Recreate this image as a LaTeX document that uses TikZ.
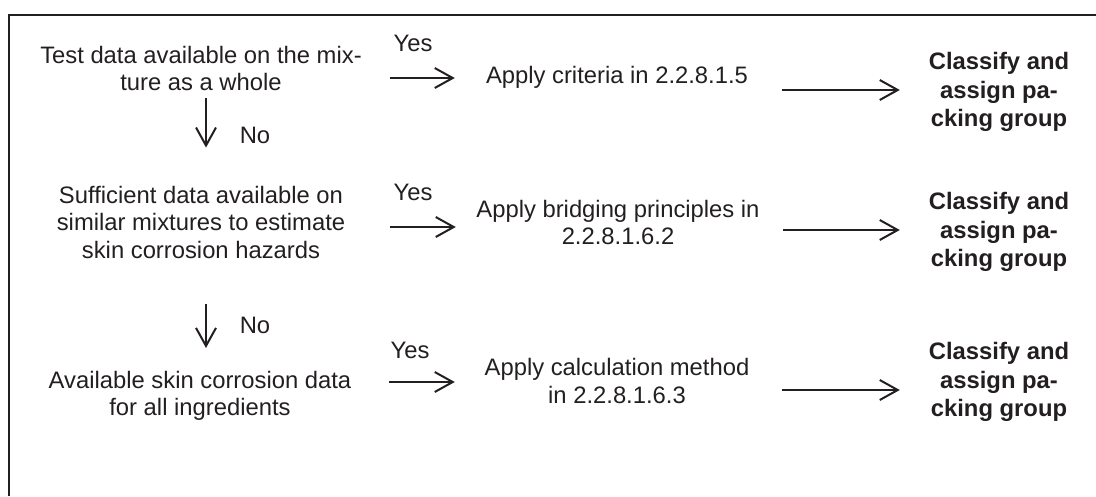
\documentclass[tikz,border=0pt]{standalone}
\usepackage{fontspec}
\setmainfont{Liberation Sans}
\usetikzlibrary{arrows.meta}
\definecolor{ink}{RGB}{35,31,32}

\begin{document}
\begin{tikzpicture}[x=1pt,y=-1pt]
	\tikzstyle{arrow}=[draw, ink, line width=2pt, -{Straight Barb[length=18pt,width=20pt]}]
	\tikzstyle{txt}=[ink, inner sep=0pt, align=center, font=\fontsize{23.8}{27.5}\selectfont]
	\tikzstyle{cond}=[txt, minimum width=378pt]
	\tikzstyle{apply}=[txt, minimum width=324pt]
	\tikzstyle{result}=[txt, minimum width=198pt, font=\fontsize{23.8}{28.5}\selectfont\bfseries]
	\newcommand\Xcond{201}
	\newcommand\Xapply{617}
	\newcommand\Xresult{999}
	\newcommand\Xyes{413}
	\newcommand\Xno{255}
	\newcommand\Xdown{206}

	\useasboundingbox (0,0) rectangle (1096,496);

	% Frame
	\draw [ink, line width=2pt] (9,496) |- (1096,15);

	% Conditions
	\node [cond] at (\Xcond,68.5) (c1) {Test data available on the mix-\\ture as a whole};
	\node [cond] at (\Xcond,222) (c2) {Sufficient data available on\\similar mixtures to estimate\\skin corrosion hazards};
	\node [cond] at (\Xcond-1,396) (c3) {Available skin corrosion data\\for all ingredients};

	% Methods
	\node [apply] at (\Xapply,77) (a1) {Apply criteria in 2.2.8.1.5};
	\node [apply] at (\Xapply+1,222.5) (a2) {Apply bridging principles in\\2.2.8.1.6.2};
	\node [apply] at (\Xapply,381) (a3) {Apply calculation method\\in 2.2.8.1.6.3};

	% Results
	\node [result] at (\Xresult,92) (k1) {Classify and\\assign pa-\\cking group};
	\node [result] at (\Xresult,232) (k2) {Classify and\\assign pa-\\cking group};
	\node [result] at (\Xresult,382) (k3) {Classify and\\assign pa-\\cking group};

	% Yes / No labels
	\node [txt] at (\Xyes,43) (yes1) {Yes};
	\node [txt] at (\Xyes,192) (yes2) {Yes};
	\node [txt] at (\Xyes-3,350) (yes3) {Yes};
	\node [txt] at (\Xno,135) (no1) {No};
	\node [txt] at (\Xno,325) (no2) {No};

	% Arrow rows
	\coordinate (ra1) at (0,78);
	\coordinate (rb1) at (0,90);
	\coordinate (ra2) at (0,227);
	\coordinate (rb2) at (0,230);
	\coordinate (ra3) at (0,382);
	\coordinate (rb3) at (0,390);
	\coordinate (dn) at (\Xdown,0);

	% Path Arrows
	\path [arrow] (c1.east |- ra1) -- (a1.west |- ra1);
	\path [arrow] (c2.east |- ra2) -- (a2.west |- ra2);
	\path [arrow] (c3.east |- ra3) -- (a3.west |- ra3);

	\path [arrow, shorten <=3pt] (a1.east |- rb1) -- (k1.west |- rb1);
	\path [arrow, shorten <=3pt] (a2.east |- rb2) -- (k2.west |- rb2);
	\path [arrow, shorten <=3pt] (a3.east |- rb3) -- (k3.west |- rb3);

	\path [arrow, shorten <=7pt, shorten >=38pt] (c1.south -| dn) -- (c2.north -| dn);
	\path [arrow, shorten <=46pt, shorten >=23pt] (c2.south -| dn) -- (c3.north -| dn);
\end{tikzpicture}
\end{document}
